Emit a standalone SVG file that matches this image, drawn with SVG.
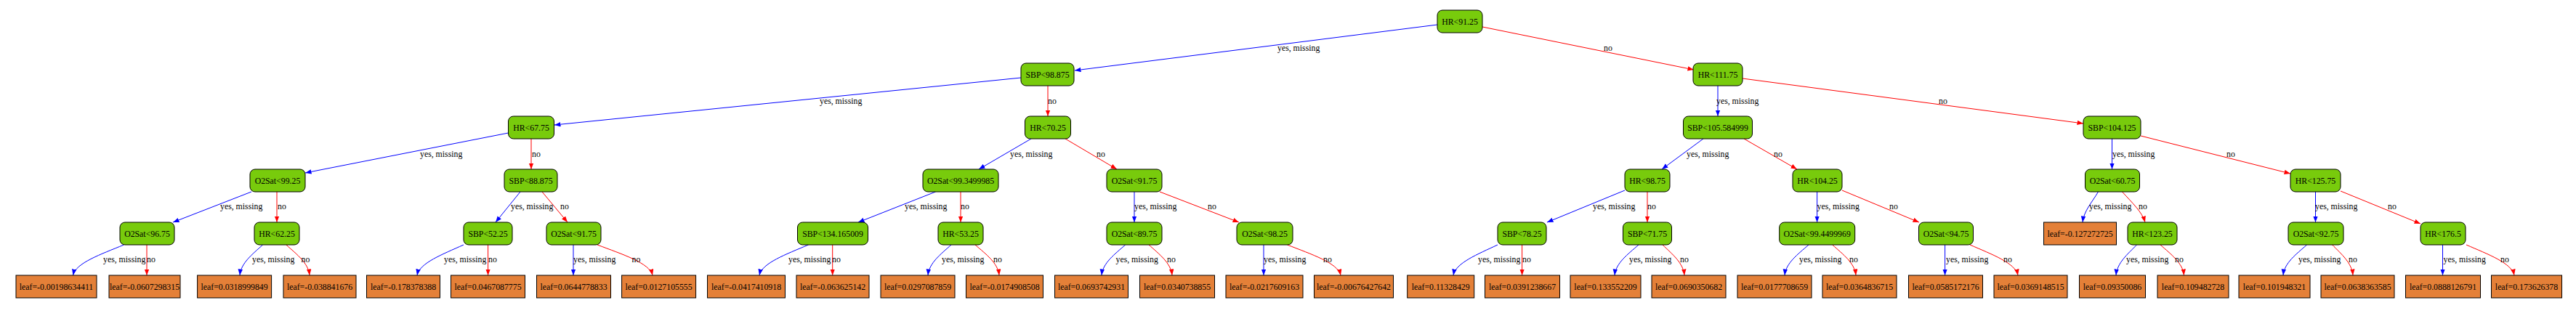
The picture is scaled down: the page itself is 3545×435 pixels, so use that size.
<svg xmlns="http://www.w3.org/2000/svg" width="3545" height="435" viewBox="0 0 3545 435">
<style>
text{font-family:"Liberation Serif","Times New Roman",serif;font-size:11.8px;fill:#000}
.d rect{fill:#78cb0c;stroke:#000;stroke-width:1}
.l rect{fill:#e48038;stroke:#000;stroke-width:1}
.d text,.l text{text-anchor:middle}
.y{stroke:#0000ff;stroke-width:1;fill:none;marker-end:url(#ab)}
.n{stroke:#ff0000;stroke-width:1;fill:none;marker-end:url(#ar)}
</style>
<defs>
<marker id="ab" markerUnits="userSpaceOnUse" markerWidth="9" markerHeight="7" refX="8.5" refY="3.25" orient="auto"><path d="M0,0 L8.5,3.25 L0,6.5 z" fill="#0000ff"/></marker>
<marker id="ar" markerUnits="userSpaceOnUse" markerWidth="9" markerHeight="7" refX="8.5" refY="3.25" orient="auto"><path d="M0,0 L8.5,3.25 L0,6.5 z" fill="#ff0000"/></marker>
</defs>
<rect width="3545" height="435" fill="#fff"/>
<g id="connectors">
<path class="y" d="M1978,34 L1479,97"/>
<path class="n" d="M2040,37 L2331,96"/>
<path class="y" d="M1405,107 L763,172"/>
<path class="n" d="M1442,118 L1442,160"/>
<path class="y" d="M2364,118 L2364,160"/>
<path class="n" d="M2398,108 L2867,170"/>
<path class="y" d="M699.5,183 L420,238"/>
<path class="n" d="M731,191 L731,233"/>
<path class="y" d="M1419,191 L1347,233"/>
<path class="n" d="M1466,191 L1537,233"/>
<path class="y" d="M2344,191 L2287,233"/>
<path class="n" d="M2400,191 L2473,233"/>
<path class="y" d="M2906.5,191 L2906.5,233"/>
<path class="n" d="M2946,187 L3152,239"/>
<path class="y" d="M346,264 L238,306"/>
<path class="n" d="M381,264 L381,306"/>
<path class="y" d="M716,264 L682,306"/>
<path class="n" d="M746,264 L781,306"/>
<path class="y" d="M1287.5,264 L1181,306"/>
<path class="n" d="M1322,264 L1322,306"/>
<path class="y" d="M1561,264 L1561,306"/>
<path class="n" d="M1596,264 L1705,306"/>
<path class="y" d="M2236,262 L2129,306"/>
<path class="n" d="M2267,264 L2267,306"/>
<path class="y" d="M2500.6,264 L2500.6,306"/>
<path class="n" d="M2535,262 L2641,306"/>
<path class="y" d="M2887.5,264 C2878,280 2868,290 2866,306"/>
<path class="n" d="M2920.5,264 C2935,280 2948,292 2952,306"/>
<path class="y" d="M3186.5,264 L3186.5,306"/>
<path class="n" d="M3221,263 L3331,308"/>
<path class="y" d="M170.5,337 C139,350 104,362 100.5,379"/>
<path class="n" d="M202,337 L202,379"/>
<path class="y" d="M361.6,337 C347.4,350 331.6,362 330,379"/>
<path class="n" d="M393.8,337 C408.3,350 424.4,362 426,379"/>
<path class="y" d="M638,337 C609.2,350 577.2,362 574,379"/>
<path class="n" d="M671.6,337 L671.6,379"/>
<path class="y" d="M789,337 L789,379"/>
<path class="n" d="M822,337 C856.2,350 894.2,362 898,379"/>
<path class="y" d="M1112.5,337 C1082.1,350 1048.4,362 1045,379"/>
<path class="n" d="M1145.7,337 L1145.7,379"/>
<path class="y" d="M1309,337 C1294.6,350 1278.6,362 1277,379"/>
<path class="n" d="M1342,337 C1356.9,350 1373.4,362 1375,379"/>
<path class="y" d="M1548.7,337 C1534,350 1517.6,362 1516,379"/>
<path class="n" d="M1581,337 C1595.4,350 1611.4,362 1613,379"/>
<path class="y" d="M1739,337 L1739,379"/>
<path class="n" d="M1771.5,337 C1804.6,350 1841.3,362 1845,379"/>
<path class="y" d="M2061,337 C2033.6,350 2003,362 2000,379"/>
<path class="n" d="M2094.6,337 L2094.6,379"/>
<path class="y" d="M2255,337 C2240.2,350 2223.7,362 2222,379"/>
<path class="n" d="M2288,337 C2301.5,350 2316.5,362 2318,379"/>
<path class="y" d="M2489,337 C2474.2,350 2457.7,362 2456,379"/>
<path class="n" d="M2521.7,337 C2536.2,350 2552.4,362 2554,379"/>
<path class="y" d="M2676.6,337 L2676.6,379"/>
<path class="n" d="M2711,337 C2740.7,350 2773.7,362 2777,379"/>
<path class="y" d="M2940.6,337 C2927.7,350 2913.4,362 2912,379"/>
<path class="n" d="M2973,337 C2987.6,350 3003.9,362 3005.5,379"/>
<path class="y" d="M3174.6,337 C3159.9,350 3143.6,362 3142,379"/>
<path class="n" d="M3209.6,337 C3222.4,350 3236.6,362 3238,379"/>
<path class="y" d="M3361.5,337 L3361.5,379"/>
<path class="n" d="M3394,337 C3423.7,350 3456.7,362 3460,379"/>
<g id="edge-labels">
<text x="1758" y="70">yes, missing</text><text x="2207" y="70">no</text>
<text x="1128" y="143">yes, missing</text><text x="1442" y="143">no</text>
<text x="2362" y="143">yes, missing</text><text x="2668" y="143">no</text>
<text x="578" y="216">yes, missing</text><text x="732" y="216">no</text>
<text x="1390" y="216">yes, missing</text><text x="1509" y="216">no</text>
<text x="2321" y="216">yes, missing</text><text x="2441" y="216">no</text>
<text x="2907" y="216">yes, missing</text><text x="3064" y="216">no</text>
<text x="303" y="288">yes, missing</text><text x="382" y="288">no</text>
<text x="703" y="288">yes, missing</text><text x="771" y="288">no</text>
<text x="1245" y="288">yes, missing</text><text x="1322" y="288">no</text>
<text x="1561" y="288">yes, missing</text><text x="1662" y="288">no</text>
<text x="2192" y="288">yes, missing</text><text x="2267" y="288">no</text>
<text x="2500.5" y="288">yes, missing</text><text x="2600" y="288">no</text>
<text x="2875" y="288">yes, missing</text><text x="2943" y="288">no</text>
<text x="3186" y="288">yes, missing</text><text x="3286" y="288">no</text>
<text x="142" y="361">yes, missing</text><text x="202" y="361">no</text>
<text x="347" y="361">yes, missing</text><text x="414.5" y="361">no</text>
<text x="611" y="361">yes, missing</text><text x="672" y="361">no</text>
<text x="789" y="361">yes, missing</text><text x="869.6" y="361">no</text>
<text x="1085" y="361">yes, missing</text><text x="1145" y="361">no</text>
<text x="1296" y="361">yes, missing</text><text x="1367" y="361">no</text>
<text x="1535.5" y="361">yes, missing</text><text x="1606" y="361">no</text>
<text x="1739" y="361">yes, missing</text><text x="1821" y="361">no</text>
<text x="2034" y="361">yes, missing</text><text x="2095" y="361">no</text>
<text x="2242" y="361">yes, missing</text><text x="2312" y="361">no</text>
<text x="2476" y="361">yes, missing</text><text x="2545" y="361">no</text>
<text x="2678" y="361">yes, missing</text><text x="2757" y="361">no</text>
<text x="2926" y="361">yes, missing</text><text x="2993" y="361">no</text>
<text x="3163" y="361">yes, missing</text><text x="3232" y="361">no</text>
<text x="3362.5" y="361">yes, missing</text><text x="3441" y="361">no</text>
</g>
</g>
<g id="n0" class="d"><rect x="1978" y="14" width="62" height="31" rx="7"/><text x="2009" y="33.5">HR&lt;91.25</text></g>
<g id="n1" class="d"><rect x="1405" y="87" width="73" height="31" rx="7"/><text x="1441.5" y="106.5">SBP&lt;98.875</text></g>
<g id="n2" class="d"><rect x="2330" y="87" width="68" height="31" rx="7"/><text x="2364" y="106.5">HR&lt;111.75</text></g>
<g id="n3" class="d"><rect x="699.5" y="160" width="63" height="31" rx="7"/><text x="731" y="179.5">HR&lt;67.75</text></g>
<g id="n4" class="d"><rect x="1410.5" y="160" width="63" height="31" rx="7"/><text x="1442" y="179.5">HR&lt;70.25</text></g>
<g id="n5" class="d"><rect x="2316.5" y="160" width="95" height="31" rx="7"/><text x="2364" y="179.5">SBP&lt;105.584999</text></g>
<g id="n6" class="d"><rect x="2867" y="160" width="79" height="31" rx="7"/><text x="2906.5" y="179.5">SBP&lt;104.125</text></g>
<g id="n7" class="d"><rect x="344" y="233" width="76" height="31" rx="7"/><text x="382" y="252.5">O2Sat&lt;99.25</text></g>
<g id="n8" class="d"><rect x="694" y="233" width="73" height="31" rx="7"/><text x="730.5" y="252.5">SBP&lt;88.875</text></g>
<g id="n9" class="d"><rect x="1270" y="233" width="104" height="31" rx="7"/><text x="1322" y="252.5">O2Sat&lt;99.3499985</text></g>
<g id="n10" class="d"><rect x="1523" y="233" width="76" height="31" rx="7"/><text x="1561" y="252.5">O2Sat&lt;91.75</text></g>
<g id="n11" class="d"><rect x="2236" y="233" width="62" height="31" rx="7"/><text x="2267" y="252.5">HR&lt;98.75</text></g>
<g id="n12" class="d"><rect x="2467" y="233" width="68" height="31" rx="7"/><text x="2501" y="252.5">HR&lt;104.25</text></g>
<g id="n13" class="d"><rect x="2869.5" y="233" width="75" height="31" rx="7"/><text x="2907" y="252.5">O2Sat&lt;60.75</text></g>
<g id="n14" class="d"><rect x="3152" y="233" width="69" height="31" rx="7"/><text x="3186.5" y="252.5">HR&lt;125.75</text></g>
<g id="n15" class="d"><rect x="165" y="306" width="75" height="31" rx="7"/><text x="202.5" y="325.5">O2Sat&lt;96.75</text></g>
<g id="n16" class="d"><rect x="350" y="306" width="62" height="31" rx="7"/><text x="381" y="325.5">HR&lt;62.25</text></g>
<g id="n17" class="d"><rect x="638" y="306" width="67" height="31" rx="7"/><text x="671.5" y="325.5">SBP&lt;52.25</text></g>
<g id="n18" class="d"><rect x="752" y="306" width="75" height="31" rx="7"/><text x="789.5" y="325.5">O2Sat&lt;91.75</text></g>
<g id="n19" class="d"><rect x="1097.5" y="306" width="97" height="31" rx="7"/><text x="1146" y="325.5">SBP&lt;134.165009</text></g>
<g id="n20" class="d"><rect x="1291" y="306" width="62" height="31" rx="7"/><text x="1322" y="325.5">HR&lt;53.25</text></g>
<g id="n21" class="d"><rect x="1523" y="306" width="76" height="31" rx="7"/><text x="1561" y="325.5">O2Sat&lt;89.75</text></g>
<g id="n22" class="d"><rect x="1702" y="306" width="77" height="31" rx="7"/><text x="1740.5" y="325.5">O2Sat&lt;98.25</text></g>
<g id="n23" class="d"><rect x="2061" y="306" width="67" height="31" rx="7"/><text x="2094.5" y="325.5">SBP&lt;78.25</text></g>
<g id="n24" class="d"><rect x="2233.5" y="306" width="67" height="31" rx="7"/><text x="2267" y="325.5">SBP&lt;71.75</text></g>
<g id="n25" class="d"><rect x="2448.7" y="306" width="104" height="31" rx="7"/><text x="2500.7" y="325.5">O2Sat&lt;99.4499969</text></g>
<g id="n26" class="d"><rect x="2640.5" y="306" width="75" height="31" rx="7"/><text x="2678" y="325.5">O2Sat&lt;94.75</text></g>
<g id="n27" class="l"><rect x="2812.5" y="306" width="100" height="31"/><text x="2862.5" y="325.5">leaf=-0.127272725</text></g>
<g id="n28" class="d"><rect x="2928" y="306" width="68" height="31" rx="7"/><text x="2962" y="325.5">HR&lt;123.25</text></g>
<g id="n29" class="d"><rect x="3149" y="306" width="76" height="31" rx="7"/><text x="3187" y="325.5">O2Sat&lt;92.75</text></g>
<g id="n30" class="d"><rect x="3331" y="306" width="62" height="31" rx="7"/><text x="3362" y="325.5">HR&lt;176.5</text></g>
<g id="l1" class="l"><rect x="22" y="379" width="111" height="31"/><text x="77.5" y="398.5">leaf=-0.00198634411</text></g>
<g id="l2" class="l"><rect x="150" y="379" width="98" height="31"/><text x="199" y="398.5">leaf=-0.0607298315</text></g>
<g id="l3" class="l"><rect x="271.6" y="379" width="102" height="31"/><text x="322.6" y="398.5">leaf=0.0318999849</text></g>
<g id="l4" class="l"><rect x="390" y="379" width="100" height="31"/><text x="440" y="398.5">leaf=-0.038841676</text></g>
<g id="l5" class="l"><rect x="504.5" y="379" width="101" height="31"/><text x="555" y="398.5">leaf=-0.178378388</text></g>
<g id="l6" class="l"><rect x="620.5" y="379" width="102" height="31"/><text x="671.5" y="398.5">leaf=0.0467087775</text></g>
<g id="l7" class="l"><rect x="738.5" y="379" width="102" height="31"/><text x="789.5" y="398.5">leaf=0.0644778833</text></g>
<g id="l8" class="l"><rect x="855.6" y="379" width="102" height="31"/><text x="906.6" y="398.5">leaf=0.0127105555</text></g>
<g id="l9" class="l"><rect x="973.5" y="379" width="107" height="31"/><text x="1027" y="398.5">leaf=-0.0417410918</text></g>
<g id="l10" class="l"><rect x="1096" y="379" width="100" height="31"/><text x="1146" y="398.5">leaf=-0.063625142</text></g>
<g id="l11" class="l"><rect x="1212" y="379" width="102" height="31"/><text x="1263" y="398.5">leaf=0.0297087859</text></g>
<g id="l12" class="l"><rect x="1329.5" y="379" width="106" height="31"/><text x="1382.5" y="398.5">leaf=-0.0174908508</text></g>
<g id="l13" class="l"><rect x="1451.5" y="379" width="101" height="31"/><text x="1502" y="398.5">leaf=0.0693742931</text></g>
<g id="l14" class="l"><rect x="1568.5" y="379" width="103" height="31"/><text x="1620" y="398.5">leaf=0.0340738855</text></g>
<g id="l15" class="l"><rect x="1687" y="379" width="106" height="31"/><text x="1740" y="398.5">leaf=-0.0217609163</text></g>
<g id="l16" class="l"><rect x="1808.5" y="379" width="109" height="31"/><text x="1863" y="398.5">leaf=-0.00676427642</text></g>
<g id="l17" class="l"><rect x="1936.7" y="379" width="92" height="31"/><text x="1982.7" y="398.5">leaf=0.11328429</text></g>
<g id="l18" class="l"><rect x="2043.5" y="379" width="103" height="31"/><text x="2095" y="398.5">leaf=0.0391238667</text></g>
<g id="l19" class="l"><rect x="2161" y="379" width="97" height="31"/><text x="2209.5" y="398.5">leaf=0.133552209</text></g>
<g id="l20" class="l"><rect x="2273" y="379" width="102" height="31"/><text x="2324" y="398.5">leaf=0.0690350682</text></g>
<g id="l21" class="l"><rect x="2391" y="379" width="102" height="31"/><text x="2442" y="398.5">leaf=0.0177708659</text></g>
<g id="l22" class="l"><rect x="2508" y="379" width="102" height="31"/><text x="2559" y="398.5">leaf=0.0364836715</text></g>
<g id="l23" class="l"><rect x="2626.5" y="379" width="102" height="31"/><text x="2677.5" y="398.5">leaf=0.0585172176</text></g>
<g id="l24" class="l"><rect x="2744" y="379" width="101" height="31"/><text x="2794.5" y="398.5">leaf=0.0369148515</text></g>
<g id="l25" class="l"><rect x="2861.5" y="379" width="91" height="31"/><text x="2907" y="398.5">leaf=0.09350086</text></g>
<g id="l26" class="l"><rect x="2969" y="379" width="98" height="31"/><text x="3018" y="398.5">leaf=0.109482728</text></g>
<g id="l27" class="l"><rect x="3081" y="379" width="98" height="31"/><text x="3130" y="398.5">leaf=0.101948321</text></g>
<g id="l28" class="l"><rect x="3194" y="379" width="101" height="31"/><text x="3244.5" y="398.5">leaf=0.0638363585</text></g>
<g id="l29" class="l"><rect x="3310.5" y="379" width="103" height="31"/><text x="3362" y="398.5">leaf=0.0888126791</text></g>
<g id="l30" class="l"><rect x="3428.5" y="379" width="97" height="31"/><text x="3477" y="398.5">leaf=0.173626378</text></g>
</svg>
